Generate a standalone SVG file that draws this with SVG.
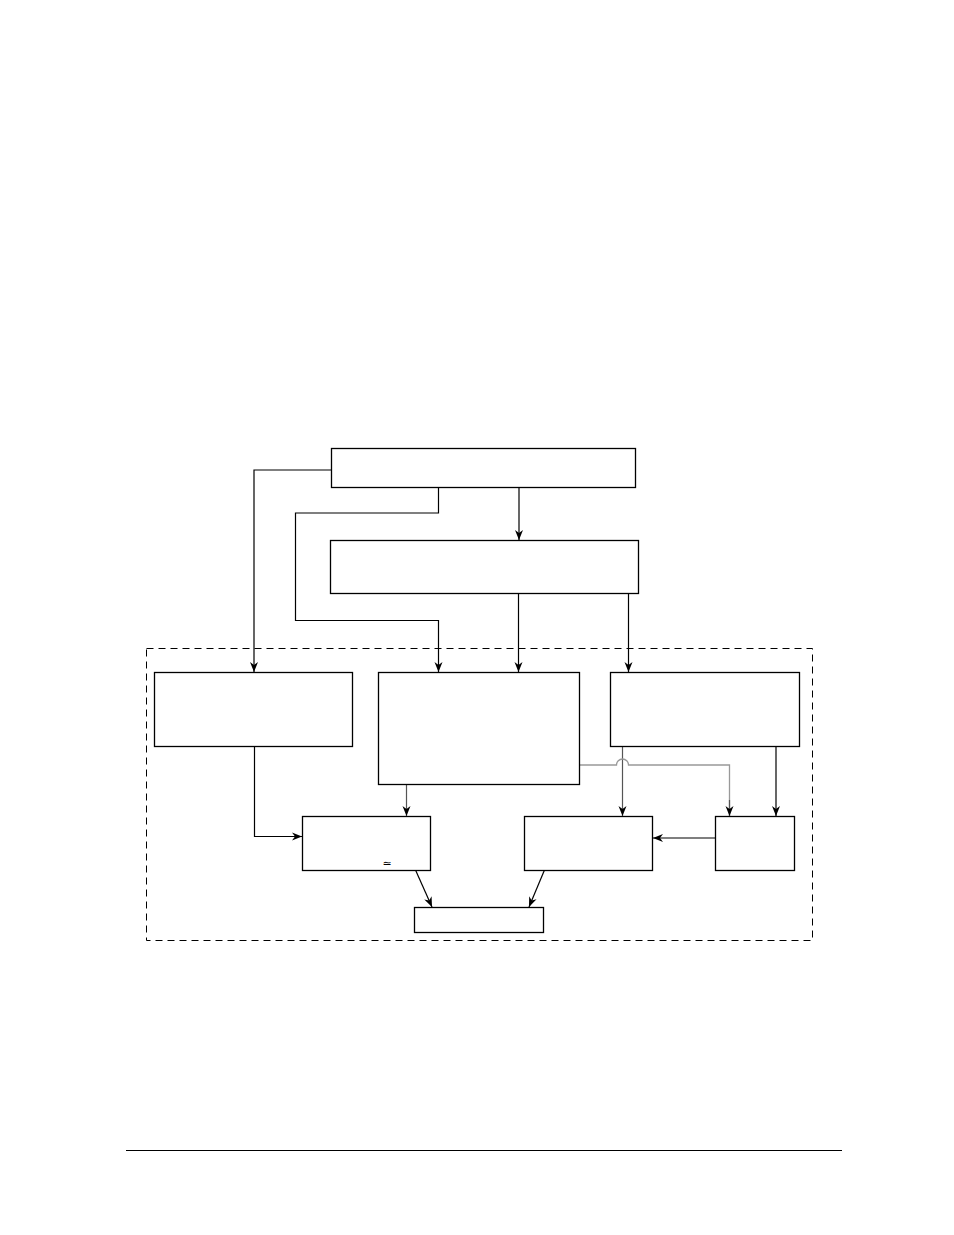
<svg xmlns="http://www.w3.org/2000/svg" width="954" height="1235" viewBox="0 0 954 1235">
<style>
.box{fill:#fff;stroke:#000;stroke-width:1.3}
.c{fill:none;stroke:#000;stroke-width:1.2}
.g1{fill:none;stroke:#999;stroke-width:1.3}
.g2{fill:none;stroke:#555;stroke-width:1.2}
.dash{fill:none;stroke:#000;stroke-width:1;stroke-dasharray:7,5}
.t{font-family:"DejaVu Sans","Liberation Sans",sans-serif;font-size:11px;fill:#000}
</style>
<defs>
<marker id="ah" viewBox="0 0 10 10" refX="10" refY="5" markerWidth="10" markerHeight="10" markerUnits="userSpaceOnUse" orient="auto">
<path d="M0,1 L10,5 L0,9 L3,5 Z" fill="#000"/>
</marker>
</defs>
<rect x="0" y="0" width="954" height="1235" fill="#fff"/>
<rect class="dash" x="146.5" y="648.5" width="666" height="292"/>
<g id="connectors">
<path class="c" d="M331,470 H254 V672" marker-end="url(#ah)"/>
<path class="c" d="M438.5,487 V513 H295.5 V620.5 H438.5 V672" marker-end="url(#ah)"/>
<path class="c" d="M519,487 V540" marker-end="url(#ah)"/>
<path class="c" d="M518.5,593 V672" marker-end="url(#ah)"/>
<path class="c" d="M628.5,593 V672" marker-end="url(#ah)"/>
<path class="c" d="M254.5,746 V836.5 H302" marker-end="url(#ah)"/>
<path class="g2" d="M406.5,784 V816" marker-end="url(#ah)"/>
<path class="g2" d="M622.5,747 V816" marker-end="url(#ah)"/>
<path class="g1" d="M579.5,765 H616.5 A6,6 0 0 1 628.5,765 H729.5 V816"/>
<path class="g2" d="M729.5,800 V816" marker-end="url(#ah)"/>
<path class="c" d="M776,747 V816" marker-end="url(#ah)"/>
<path class="c" d="M715,838 H653" marker-end="url(#ah)"/>
<path class="c" d="M415.5,870 L432,907" marker-end="url(#ah)"/>
<path class="c" d="M544.5,870 L529,907" marker-end="url(#ah)"/>
</g>
<g id="n1"><rect class="box" x="331.5" y="448.5" width="304" height="39"/></g>
<g id="n2"><rect class="box" x="330.5" y="540.5" width="308" height="53"/></g>
<g id="n3"><rect class="box" x="154.5" y="672.5" width="198" height="74"/></g>
<g id="n4"><rect class="box" x="378.5" y="672.5" width="201" height="112"/></g>
<g id="n5"><rect class="box" x="610.5" y="672.5" width="189" height="74"/></g>
<g id="n6"><rect class="box" x="302.5" y="816.5" width="128" height="54"/>
<text class="t" x="387" y="867" text-anchor="middle">≃</text></g>
<g id="n7"><rect class="box" x="524.5" y="816.5" width="128" height="54"/></g>
<g id="n8"><rect class="box" x="715.5" y="816.5" width="79" height="54"/></g>
<g id="n9"><rect class="box" x="414.5" y="907.5" width="129" height="25"/></g>
<line x1="126" y1="1150.5" x2="842" y2="1150.5" stroke="#000" stroke-width="1.2"/>
</svg>
